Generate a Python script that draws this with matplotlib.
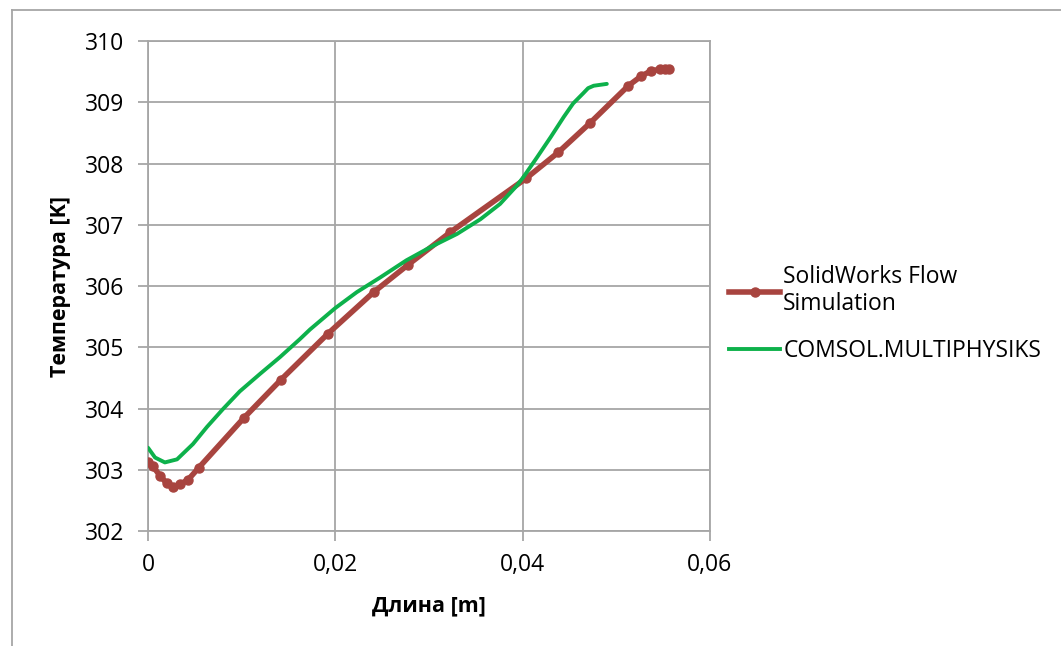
import matplotlib.pyplot as plt
from matplotlib.lines import Line2D
from matplotlib.ticker import FuncFormatter

plt.rcParams['font.family'] = ['Open Sans', 'DejaVu Sans']

# SolidWorks Flow Simulation (points with markers)
sw_x = [0.0, 0.0005, 0.0013, 0.0020, 0.0027, 0.0034, 0.0043, 0.0054, 0.0102,
        0.0142, 0.0192, 0.0241, 0.0278, 0.0323, 0.0404, 0.0438, 0.0472,
        0.0513, 0.0527, 0.0537, 0.0547, 0.0552, 0.0556]
sw_t = [303.12, 303.06, 302.90, 302.78, 302.72, 302.76, 302.84, 303.03, 303.84,
        304.47, 305.22, 305.90, 306.35, 306.88, 307.76, 308.18, 308.66,
        309.27, 309.43, 309.51, 309.54, 309.55, 309.55]

# COMSOL.MULTIPHYSIKS (smooth line)
cm_x = [0.0, 0.00075, 0.0018, 0.0031, 0.0048, 0.0063, 0.0080, 0.0098, 0.0120,
        0.0141, 0.0162, 0.0173, 0.0200, 0.0223, 0.0248, 0.0276, 0.0301,
        0.0330, 0.0355, 0.0376, 0.0394, 0.0401, 0.0415, 0.0430, 0.0444,
        0.0454, 0.0465, 0.0470, 0.0476, 0.0490]
cm_t = [303.36, 303.20, 303.12, 303.17, 303.42, 303.70, 303.99, 304.28, 304.57,
        304.84, 305.13, 305.29, 305.64, 305.90, 306.14, 306.42, 306.63,
        306.85, 307.09, 307.34, 307.64, 307.78, 308.09, 308.43, 308.76,
        308.98, 309.15, 309.23, 309.27, 309.30]

red = '#A8443F'
green = '#0DB14B'
grid_c = '#A6A6A6'

fig = plt.figure(figsize=(10.61, 6.46), dpi=100)
ax = fig.add_axes([0.1395, 0.178, 0.5295, 0.7585])

ax.plot(sw_x, sw_t, color=red, lw=4, marker='o', ms=6.5, solid_capstyle='round',
        solid_joinstyle='round', zorder=3)
ax.plot(cm_x, cm_t, color=green, lw=2.8, solid_joinstyle='round',
        solid_capstyle='round', zorder=4)

ax.set_xlim(0, 0.06)
ax.set_ylim(302, 310)
ax.set_xticks([0, 0.02, 0.04, 0.06])
ax.set_yticks(range(302, 311))
ax.xaxis.set_major_formatter(FuncFormatter(
    lambda v, p: '0' if v == 0 else f'{v:.2f}'.replace('.', ',')))
ax.grid(True, color=grid_c, lw=1.3)
ax.set_axisbelow(True)
for s in ax.spines.values():
    s.set_color(grid_c)
    s.set_linewidth(1.3)
ax.tick_params(axis='both', colors=grid_c, labelcolor='black', labelsize=16.5,
               length=7, width=1.3, direction='out')
ax.tick_params(axis='x', pad=9)
ax.tick_params(axis='y', pad=10)

ax.set_xlabel('Длина [m]', fontsize=15.5, fontweight='bold', labelpad=13)
ax.set_ylabel('Температура [K]', fontsize=15.5, fontweight='bold', labelpad=10)

handles = [Line2D([], [], color=red, lw=4, marker='o', ms=6.5),
           Line2D([], [], color=green, lw=2.8)]
fig.legend(handles, ['SolidWorks Flow\nSimulation', 'COMSOL.MULTIPHYSIKS'],
           loc='upper left', bbox_to_anchor=(0.668, 0.622), frameon=False,
           fontsize=16.5, handlelength=2.2, handletextpad=0.15, labelspacing=1.0)

# outer chart border
fig.add_artist(Line2D([12 / 1061, 12 / 1061], [0, 1 - 10 / 646],
                      transform=fig.transFigure, color=grid_c, lw=1.3))
fig.add_artist(Line2D([12 / 1061, 1], [1 - 10 / 646, 1 - 10 / 646],
                      transform=fig.transFigure, color=grid_c, lw=1.3))

fig.savefig('out.png', dpi=100)
